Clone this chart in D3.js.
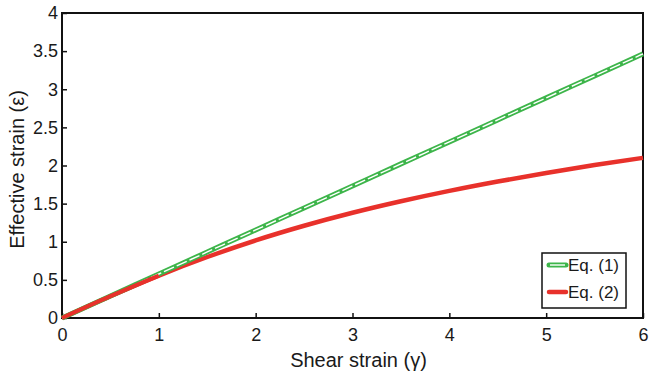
<!DOCTYPE html>
<html>
<head>
<meta charset="utf-8">
<script src="https://cdn.jsdelivr.net/npm/d3@7"></script>
<style>
  body { margin: 0; background: #fff; }
  text { font-family: "Liberation Sans", Arial, sans-serif; fill: #1a1a1a; }
</style>
</head>
<body>
<svg></svg>
<script>
// data
let gamma = [0, 0.5, 1, 1.5, 2, 2.5, 3, 3.5, 4, 4.5, 5, 5.5, 6];
let eq1 = [0, 0.289, 0.577, 0.866, 1.155, 1.443, 1.732, 2.021, 2.309, 2.598, 2.887, 3.175, 3.464];
let eq2 = [0, 0.286, 0.556, 0.800, 1.018, 1.210, 1.380, 1.531, 1.667, 1.790, 1.902, 2.006, 2.100];
let xTicks = [0, 1, 2, 3, 4, 5, 6];
let yTicks = [0, 0.5, 1, 1.5, 2, 2.5, 3, 3.5, 4];
let seriesNames = ["Eq. (1)", "Eq. (2)"];

let margin = { top: 13, right: 12, bottom: 56, left: 62 };
let width = 655 - margin.left - margin.right,
    height = 374 - margin.top - margin.bottom;

let svg = d3.select('svg')
  .attr('width', 655)
  .attr('height', 374)
.append('g')
  .attr('transform', `translate(${margin.left},${margin.top})`);

let xScale = d3.scaleLinear().domain([0, 6]).range([0, width]);
let yScale = d3.scaleLinear().domain([0, 4]).range([height, 0]);

// axes, ticks pointing inward
let xAxis = svg.append('g')
  .attr('transform', `translate(0,${height})`)
  .call(d3.axisBottom(xScale).tickValues(xTicks).tickSize(-5).tickSizeOuter(0).tickPadding(10).tickFormat(d3.format('')));
let yAxis = svg.append('g')
  .call(d3.axisLeft(yScale).tickValues(yTicks).tickSize(-5).tickSizeOuter(0).tickPadding(4).tickFormat(d3.format('')));
[xAxis, yAxis].forEach(a => {
  a.select('.domain').remove();
  a.selectAll('line').attr('stroke', '#111').attr('stroke-width', 1.5);
  a.selectAll('text').style('font-size', '18px').attr('fill', '#1a1a1a');
});

// frame
svg.append('rect')
  .attr('x', 0).attr('y', 0)
  .attr('width', width).attr('height', height)
  .attr('fill', 'none').attr('stroke', '#111').attr('stroke-width', 2);

let line = d3.line()
  .x((d, i) => xScale(gamma[i]))
  .y(d => yScale(d))
  .curve(d3.curveMonotoneX);

// Eq. (2) red
svg.append('path').datum(eq2)
  .attr('d', line)
  .attr('fill', 'none').attr('stroke', '#e8312b').attr('stroke-width', 4.5);

// Eq. (1) green with white dashed core
svg.append('path').datum(eq1)
  .attr('d', line)
  .attr('fill', 'none').attr('stroke', '#3db54a').attr('stroke-width', 5);
svg.append('path').datum(eq1)
  .attr('d', line)
  .attr('fill', 'none').attr('stroke', '#fff').attr('stroke-width', 1.4)
  .attr('stroke-dasharray', '11,3');

// redraw red near the origin on top, as in the picture
svg.append('path').datum(eq2.slice(0, 3))
  .attr('d', line)
  .attr('fill', 'none').attr('stroke', '#e8312b').attr('stroke-width', 4);

// legend
let lg = svg.append('g').attr('transform', `translate(480,240)`);
lg.append('rect')
  .attr('width', 84).attr('height', 55)
  .attr('fill', '#fff').attr('stroke', '#111').attr('stroke-width', 1.5);
let lgColors = ['#3db54a', '#e8312b'];
seriesNames.forEach((name, i) => {
  let yy = 12 + i * 27;
  lg.append('line')
    .attr('x1', 7).attr('x2', 24).attr('y1', yy).attr('y2', yy)
    .attr('stroke', lgColors[i]).attr('stroke-width', i === 0 ? 5 : 4.5)
    .attr('stroke-linecap', 'round');
  if (i === 0) {
    lg.append('line')
      .attr('x1', 8).attr('x2', 23).attr('y1', yy).attr('y2', yy)
      .attr('stroke', '#fff').attr('stroke-width', 1.4);
  }
  lg.append('text')
    .attr('x', 26).attr('y', yy).attr('dy', '0.36em')
    .style('font-size', '17px')
    .text(name);
});

// axis titles
svg.append('text')
  .attr('x', width / 2 + 6).attr('y', height + 49)
  .attr('text-anchor', 'middle')
  .style('font-size', '20px')
  .text('Shear strain (γ)');
svg.append('text')
  .attr('transform', `translate(${-38},${height / 2 + 4}) rotate(-90)`)
  .attr('text-anchor', 'middle')
  .style('font-size', '20px')
  .text('Effective strain (ε)');
</script>
</body>
</html>
